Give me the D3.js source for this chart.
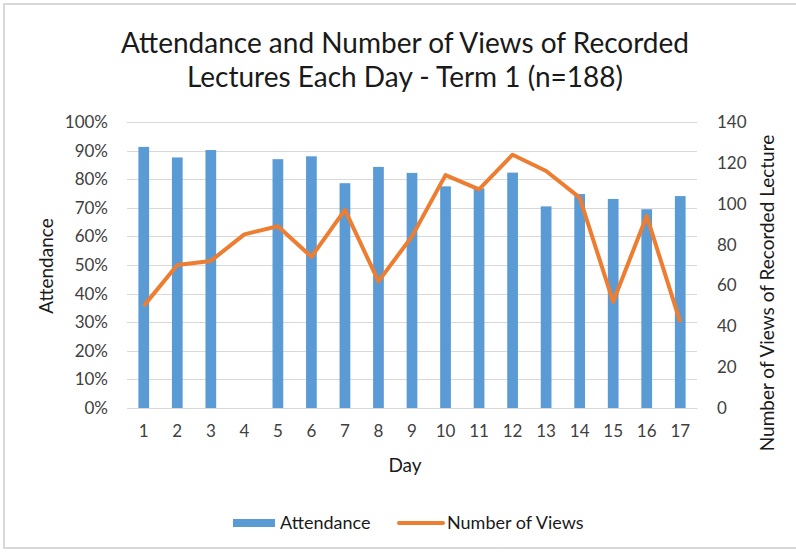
<!DOCTYPE html>
<html>
<head>
<meta charset="utf-8">
<script src="https://cdn.jsdelivr.net/npm/d3@7"></script>
<style>
  body { margin: 0; background: #fff; }
  svg text { font-family: Lato, "Open Sans", sans-serif; fill: #404040; }
</style>
</head>
<body>
<svg id="chart" width="796" height="552"></svg>
<script>
// data
var days = ["1","2","3","4","5","6","7","8","9","10","11","12","13","14","15","16","17"];
var attendance = [0.913, 0.876, 0.902, null, 0.870, 0.880, 0.786, 0.843, 0.822, 0.775, 0.768, 0.823, 0.705, 0.748, 0.731, 0.695, 0.741];
var views = [50, 70, 72, 85, 89, 74, 97, 62, 84, 114, 107, 124, 116, 103, 52, 94, 42];
var pctTicks = [0, .1, .2, .3, .4, .5, .6, .7, .8, .9, 1];
var viewTicks = [0, 20, 40, 60, 80, 100, 120, 140];

var svg = d3.select("#chart");

// chart border
svg.append("rect")
  .attr("x", 4).attr("y", 4)
  .attr("width", 800).attr("height", 544)
  .attr("fill", "none")
  .attr("stroke", "#d9d9d9")
  .attr("stroke-width", 2);

var plotL = 127, plotR = 697, plotT = 122, plotB = 408;

var x = d3.scaleBand().domain(days).range([plotL, plotR]).paddingInner(0.68).paddingOuter(0.34);
var y = d3.scaleLinear().domain([0, 1]).range([plotB, plotT]);
var y2 = d3.scaleLinear().domain([0, 140]).range([plotB, plotT]);

// gridlines
svg.append("g")
  .selectAll("line")
  .data(pctTicks)
  .enter().append("line")
  .attr("x1", plotL).attr("x2", plotR)
  .attr("y1", function(d) { return Math.round(y(d)) + 0.5; })
  .attr("y2", function(d) { return Math.round(y(d)) + 0.5; })
  .attr("stroke", "#d9d9d9")
  .attr("stroke-width", 1);

// left axis
var yAxis = svg.append("g")
  .attr("transform", "translate(" + plotL + ",0)")
  .call(d3.axisLeft(y).tickValues(pctTicks).tickFormat(d3.format(".0%")).tickSize(0).tickPadding(19));
yAxis.select(".domain").remove();
yAxis.selectAll("text").style("font-size", "17px").attr("fill", "#404040");

// right axis
var y2Axis = svg.append("g")
  .attr("transform", "translate(" + plotR + ",0)")
  .call(d3.axisRight(y2).tickValues(viewTicks).tickSize(0).tickPadding(20));
y2Axis.select(".domain").remove();
y2Axis.selectAll("text").style("font-size", "17px").attr("fill", "#404040");

// x axis
var xAxis = svg.append("g")
  .attr("transform", "translate(0," + plotB + ")")
  .call(d3.axisBottom(x).tickSize(0).tickPadding(17));
xAxis.select(".domain").attr("stroke", "#d9d9d9");
xAxis.selectAll("text").style("font-size", "17px").attr("fill", "#404040");

// bars
svg.append("g")
  .selectAll("rect")
  .data(days.map(function(d, i) { return { day: d, v: attendance[i] }; }).filter(function(d) { return d.v != null; }))
  .enter().append("rect")
  .attr("x", function(d) { return x(d.day); })
  .attr("y", function(d) { return y(d.v); })
  .attr("width", x.bandwidth())
  .attr("height", function(d) { return plotB - y(d.v); })
  .attr("fill", "#5b9bd5");

// views line
var line = d3.line()
  .x(function(d, i) { return x(days[i]) + x.bandwidth() / 2; })
  .y(function(d) { return y2(d); });
svg.append("path")
  .datum(views)
  .attr("d", line)
  .attr("fill", "none")
  .attr("stroke", "#ed7d31")
  .attr("stroke-width", 4)
  .attr("stroke-linejoin", "round");

// title
svg.append("text")
  .attr("x", 405).attr("y", 53)
  .attr("text-anchor", "middle")
  .style("font-size", "28px")
  .style("fill", "#1a1a1a")
  .text("Attendance and Number of Views of Recorded");
svg.append("text")
  .attr("x", 405).attr("y", 87)
  .attr("text-anchor", "middle")
  .style("font-size", "28px")
  .style("fill", "#1a1a1a")
  .text("Lectures Each Day - Term 1 (n=188)");

// axis titles
svg.append("text")
  .attr("transform", "translate(53,266) rotate(-90)")
  .attr("text-anchor", "middle")
  .style("font-size", "19px")
  .style("fill", "#1a1a1a")
  .text("Attendance");
svg.append("text")
  .attr("transform", "translate(774,293) rotate(-90)")
  .attr("text-anchor", "middle")
  .style("font-size", "19px")
  .style("fill", "#1a1a1a")
  .text("Number of Views of Recorded Lecture");
svg.append("text")
  .attr("x", 405).attr("y", 472)
  .attr("text-anchor", "middle")
  .style("font-size", "19px")
  .style("fill", "#1a1a1a")
  .text("Day");

// legend
var lg = svg.append("g");
lg.append("rect")
  .attr("x", 233).attr("y", 519)
  .attr("width", 42).attr("height", 8)
  .attr("fill", "#5b9bd5");
lg.append("text")
  .attr("x", 280).attr("y", 529)
  .style("font-size", "18px")
  .style("fill", "#1a1a1a")
  .text("Attendance");
lg.append("line")
  .attr("x1", 399).attr("x2", 443)
  .attr("y1", 523).attr("y2", 523)
  .attr("stroke", "#ed7d31")
  .attr("stroke-width", 4)
  .attr("stroke-linecap", "round");
lg.append("text")
  .attr("x", 447).attr("y", 529)
  .style("font-size", "18px")
  .style("fill", "#1a1a1a")
  .text("Number of Views");
</script>
</body>
</html>
